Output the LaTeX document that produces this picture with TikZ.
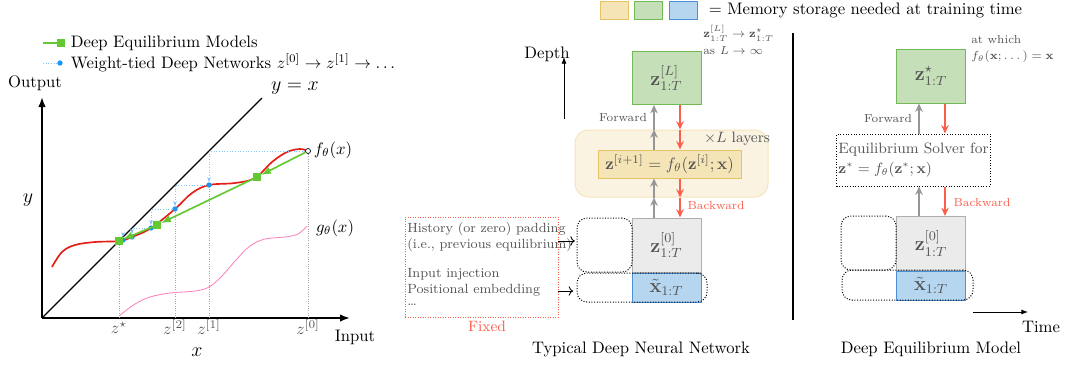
\documentclass[tikz,border=0pt]{standalone}
\usepackage{amsmath,amssymb}
\usetikzlibrary{arrows.meta}

\definecolor{deqgreen}{RGB}{100,200,50}
\definecolor{wtblue}{RGB}{25,150,240}
\definecolor{wtlight}{RGB}{130,195,250}
\definecolor{fred}{RGB}{228,30,20}
\definecolor{gpink}{RGB}{250,130,190}
\definecolor{txtgray}{RGB}{85,85,85}
\definecolor{memyellow}{RGB}{245,228,182}
\definecolor{memyellowd}{RGB}{230,195,100}
\definecolor{memgreen}{RGB}{197,223,185}
\definecolor{memgreend}{RGB}{115,185,85}
\definecolor{memblue}{RGB}{182,214,240}
\definecolor{memblued}{RGB}{75,145,215}
\definecolor{zgray}{RGB}{235,235,235}
\definecolor{zgrayd}{RGB}{175,175,175}
\definecolor{layerbg}{RGB}{250,243,226}
\definecolor{layerbd}{RGB}{246,228,185}
\definecolor{bwred}{RGB}{250,95,75}
\definecolor{fwdgray}{RGB}{150,150,150}

\tikzset{
	axis/.style={line width=1.1pt, -{Latex[length=6pt]}},
	guide/.style={gray!70, densely dotted, line width=0.4pt},
	wt/.style={wtlight, densely dotted, line width=0.6pt, -{Stealth[length=3pt]}},
	deq/.style={deqgreen, line width=1pt, -{Latex[length=6pt]}},
	wtdot/.style={circle, fill=wtblue, inner sep=0pt, minimum size=3.2pt},
	sq/.style={fill=deqgreen, inner sep=0pt, minimum size=4.4pt},
	opendot/.style={circle, draw=black, fill=white, line width=0.4pt, inner sep=0pt, minimum size=3pt},
	zlab/.style={text=txtgray},
	zlbox/.style={draw=memgreend, fill=memgreen, line width=0.6pt, minimum width=41.4pt, minimum height=31.8pt, inner sep=0pt, text=txtgray},
	zzbox/.style={draw=zgrayd, fill=zgray, line width=0.6pt, minimum width=41.4pt, minimum height=32.4pt, inner sep=0pt, text=txtgray},
	xbox/.style={draw=memblued, fill=memblue, line width=0.6pt, minimum width=41.4pt, minimum height=17.4pt, inner sep=0pt, text=txtgray},
	padbox/.style={draw, densely dotted, line width=0.6pt, rounded corners=6pt, inner sep=0pt},
	fwd/.style={fwdgray, line width=1pt, -{Stealth[length=5pt,width=4.5pt]}},
	bwd/.style={bwred, line width=1pt, -{Stealth[length=5pt,width=4.5pt]}},
	legbox/.style={line width=0.6pt, minimum width=16.8pt, minimum height=10.8pt, inner sep=0pt}
}

\begin{document}
\begin{tikzpicture}[x=0.6pt, y=-0.6pt]
	\useasboundingbox (0, 0) rectangle (1067, 368);

	% left: fixed point plot
	\coordinate (o) at(42, 318);
	\coordinate (ytop) at(42, 97);
	\coordinate (xend) at(350, 318);
	\coordinate (dtop) at(262, 98);
	\draw[axis] (o) to (ytop);
	\draw[axis] (o) to (xend);
	\draw[line width=0.8pt] (o) to (dtop);
	\node (outlab) at(35, 83){Output};
	\node (inlab) at(355, 337){Input};
	\node (ylab) at(28, 200){\large{$y$}};
	\node (xlab) at(197, 352){\large{$x$}};
	\node (idlab) at(295, 88){\large{$y = x$}};

		\draw[fred, line width=1pt] plot[smooth, tension=0.6] coordinates {(52, 267) (62, 252) (75, 245) (95, 242) (119, 241) (132, 237) (151, 228) (175, 209) (192, 193) (209, 185) (235, 183) (255, 178) (272, 162) (287, 152) (300, 149) (308, 151)};
		\draw[gpink, line width=0.5pt] plot[smooth, tension=0.6] coordinates {(119, 316) (135, 304) (150, 297) (170, 293) (195, 291) (209, 287) (222, 276) (236, 260) (250, 246) (265, 239) (285, 237) (298, 234) (307, 226)};
		\node (flab) at(333, 150){$f_\theta(x)$};
		\node (glab) at(335, 228){$g_\theta(x)$};

		\node[opendot] (c0) at(308, 151){};
		\node[wtdot] (d1) at(209, 185){};
		\node[wtdot] (d2) at(175, 209){};
		\node[wtdot] (d3) at(151, 228){};
		\node[wtdot] (d4) at(132, 237){};
		\node[wtdot] (d5) at(123, 240){};
		\draw[wt] (c0) -| (d1);
		\draw[wt] (d1) -| (d2);
		\draw[wt] (d2) -| (d3);
		\draw[wt] (d3) -| (d4);
		\draw[wt] (d4) -| (d5);

		\node[sq] (s1) at(257, 177){};
		\node[sq] (s2) at(157, 225){};
		\node[sq] (s3) at(119, 241){};
		\draw[deq] (c0) to (s1);
		\draw[deq] (s1) to (s2);
		\draw[deq] (s2) to (s3);

		\draw[guide] (s3 |- o) to (s3);
		\draw[guide] (d2 |- o) to (d2);
		\draw[guide] (d1 |- o) to (d1);
		\draw[guide] (c0 |- o) to (c0);
		\node[zlab] (zs) at(119, 328){$z^\star$};
		\node[zlab] (z2) at(175, 327){$z^{[2]}$};
		\node[zlab] (z1) at(209, 327){$z^{[1]}$};
		\node[zlab] (z0) at(308, 327){$z^{[0]}$};

	% left legend
	\coordinate (legg) at(43, 43);
	\node[sq] (legsq) at(61, 43){};
	\draw[deqgreen, line width=1pt] (legg) to (legsq);
	\node[anchor=west] (legdeq) at(65, 43){Deep Equilibrium Models};
	\coordinate (legb) at(43, 63);
	\node[wtdot] (legdot) at(60, 63){};
	\draw[wtlight, densely dotted, line width=0.6pt] (legb) to (legdot);
	\node[anchor=west] (legwt) at(65, 63){Weight-tied Deep Networks $z^{[0]} \to z^{[1]} \to \dots$};

	% memory legend
	\node[legbox, draw=memyellowd, fill=memyellow] (leg1) at(614, 10){};
	\node[legbox, draw=memgreend, fill=memgreen] (leg2) at(648, 10){};
	\node[legbox, draw=memblued, fill=memblue] (leg3) at(683, 10){};
	\node[anchor=west] (legmem) at(703, 10){$=$ Memory storage needed at training time};

	% middle: typical deep network
	\coordinate (dbot) at(564, 119);
	\coordinate (dtip) at(564, 57);
	\draw[-{Latex[length=4pt]}, line width=0.5pt] (dbot) to (dtip);
	\node (depth) at(547, 54){Depth};

	\node[draw=layerbd, fill=layerbg, line width=0.6pt, rounded corners=8pt, minimum width=115.8pt, minimum height=40.2pt] (layer) at(671.5, 163.5){};
	\node[text=txtgray] (times) at(737, 139){\small{$\times L$ layers}};
	\node[draw=memyellowd, fill=memyellow, line width=0.6pt, minimum width=85.8pt, minimum height=16.8pt, inner sep=0pt, text=txtgray] (zf) at(669.5, 164){$\mathbf{z}^{[i+1]} = f_\theta(\mathbf{z}^{[i]}; \mathbf{x})$};

	\node[zlbox] (zlm) at(666.5, 78){\large{$\mathbf{z}^{[L]}_{1:T}$}};
	\node[zzbox] (zzm) at(666.5, 245){\large{$\mathbf{z}^{[0]}_{1:T}$}};
	\node[xbox] (xm) at(666.5, 287.5){\large{$\tilde{\mathbf{x}}_{1:T}$}};
	\node[padbox, minimum width=33pt, minimum height=32.4pt] (padm) at(604.5, 245){};
	\node[padbox, minimum width=78pt, minimum height=17.4pt] (padxm) at(642, 287.5){};
	\node[anchor=west, align=left, text=txtgray, inner sep=0pt] (limm) at(703, 40){\scriptsize{$\mathbf{z}^{[L]}_{1:T} \to \mathbf{z}^\star_{1:T}$}\\[-2pt]\scriptsize{as $L \to \infty$}};

	\coordinate (fm) at(654, 0);
	\coordinate (bm) at(680, 0);
	\draw[fwd] (zzm.north -| fm) to (layer.south -| fm);
	\draw[fwd] (layer.south -| fm) to (zf.south -| fm);
	\draw[fwd] (zf.north -| fm) to (layer.north -| fm);
	\draw[fwd] (layer.north -| fm) to (zlm.south -| fm);
	\draw[bwd] (zlm.south -| bm) to (layer.north -| bm);
	\draw[bwd] (layer.north -| bm) to (zf.north -| bm);
	\draw[bwd] (zf.south -| bm) to (layer.south -| bm);
	\draw[bwd] (layer.south -| bm) to (zzm.north -| bm);
	\node[text=txtgray] (fwdm) at(623, 118){\scriptsize{Forward}};
	\node[text=bwred] (bwdm) at(716, 206){\scriptsize{Backward}};

	\node[draw=bwred, densely dotted, line width=0.5pt, minimum width=91.8pt, minimum height=60pt] (fixbox) at(481.5, 267){};
	\node[anchor=west, text=txtgray, inner sep=0pt] (hist1) at(407, 229){\footnotesize{History (or zero) padding}};
	\node[anchor=west, text=txtgray, inner sep=0pt] (hist2) at(407, 245){\footnotesize{(i.e., previous equilibrium)}};
	\node[anchor=west, text=txtgray, inner sep=0pt] (inj) at(407, 274){\footnotesize{Input injection}};
	\node[anchor=west, text=txtgray, inner sep=0pt] (pos) at(407, 290){\footnotesize{Positional embedding}};
	\node[anchor=west, text=txtgray, inner sep=0pt] (etc) at(407, 305){\footnotesize{\dots}};
	\node[text=bwred] (fixed) at(487, 326){\small{Fixed}};
	\draw[->, line width=0.5pt, shorten >=1pt] (fixbox.east |- 0, 241) to (padm.west |- 0, 241);
	\draw[->, line width=0.5pt, shorten >=2pt] (fixbox.east |- 0, 291) to (padxm.west |- 0, 291);

	\node (capm) at(641, 349){Typical Deep Neural Network};

	% separator
	\coordinate (septop) at(793, 33);
	\coordinate (sepbot) at(793, 320);
	\draw[line width=1.2pt] (septop) to (sepbot);

	% right: deep equilibrium model
	\node[zlbox, minimum height=32.4pt] (zsr) at(931, 76){\large{$\mathbf{z}^\star_{1:T}$}};
	\node[draw, densely dotted, line width=0.6pt, minimum width=91.8pt, minimum height=31.2pt, inner sep=1pt, align=left, text=txtgray] (solver) at(913.5, 160){\small{Equilibrium Solver for}\\\small{$\mathbf{z}^* = f_\theta(\mathbf{z}^*; \mathbf{x})$}};
	\node[zzbox] (zzr) at(931, 243.5){\large{$\mathbf{z}^{[0]}_{1:T}$}};
	\node[xbox] (xr) at(931, 285.5){\large{$\tilde{\mathbf{x}}_{1:T}$}};
	\node[padbox, minimum width=33pt, minimum height=32.4pt] (padr) at(868.5, 243){};
	\node[padbox, minimum width=78.6pt, minimum height=18pt] (padxr) at(907.5, 285){};
	\node[anchor=west, align=left, text=txtgray, inner sep=0pt] (atw) at(971, 49){\scriptsize{at which}\\[-2pt]\scriptsize{$f_\theta(\mathbf{x}; \dots) = \mathbf{x}$}};

	\coordinate (fr) at(919, 0);
	\coordinate (br) at(945, 0);
	\draw[fwd] (zzr.north -| fr) to (solver.south -| fr);
	\draw[fwd] (solver.north -| fr) to (zsr.south -| fr);
	\draw[bwd] (zsr.south -| br) to (solver.north -| br);
	\draw[bwd] (solver.south -| br) to (zzr.north -| br);
	\node[text=txtgray] (fwdr) at(888, 119){\scriptsize{Forward}};
	\node[text=bwred] (bwdr) at(982, 203){\scriptsize{Backward}};

	\coordinate (tl) at(973, 312);
	\coordinate (tr) at(1028, 312);
	\draw[-{Latex[length=4pt]}, line width=0.5pt] (tl) to (tr);
	\node (time) at(1041, 327){Time};

	\node (capr) at(931, 349){Deep Equilibrium Model};
\end{tikzpicture}
\end{document}
